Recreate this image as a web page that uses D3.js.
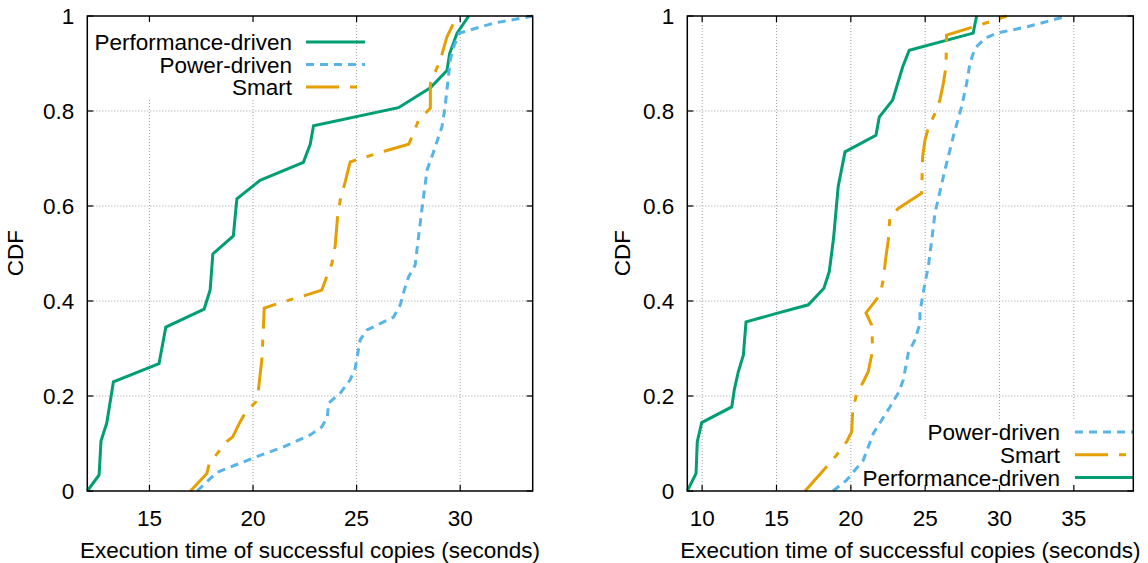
<!DOCTYPE html>
<html>
<head>
<meta charset="utf-8">
<script src="https://cdn.jsdelivr.net/npm/d3@7/dist/d3.min.js"></script>
<style>
  body { margin: 0; background: #fff; }
  text { font-family: "Liberation Sans", Arial, sans-serif; fill: #000; }
</style>
</head>
<body>
<svg id="chart" width="1148" height="563"></svg>
<script>
// left panel data (x = seconds, y = CDF)
const leftPerf = [[12,0],[12.57,0.034],[12.66,0.105],[12.94,0.143],[13.26,0.230],[15.46,0.268],[15.79,0.345],
  [17.64,0.383],[17.93,0.423],[18.06,0.499],[19.05,0.537],[19.22,0.615],[20.34,0.654],[22.43,0.692],[22.76,0.730],
  [22.92,0.769],[27.02,0.807],[28.56,0.849],[29.36,0.885],[29.49,0.921],[29.85,0.964],[30.41,1]];
const leftPower = [[17.3,0],[18.25,0.039],[20.10,0.071],[21.47,0.093],[22.76,0.118],[23.32,0.135],[23.59,0.156],
  [23.64,0.185],[24.21,0.206],[24.69,0.234],[24.93,0.258],[25.04,0.286],[25.17,0.318],[25.50,0.339],[26.78,0.366],
  [27.11,0.392],[27.30,0.423],[27.51,0.451],[27.83,0.476],[27.91,0.507],[28.15,0.592],[28.40,0.676],[28.69,0.711],
  [29.12,0.767],[29.25,0.802],[29.36,0.844],[29.52,0.907],[29.68,0.935],[29.97,0.964],[31.61,0.985],[32.90,0.995],[33.5,1]];
const leftSmart = [[16.98,0],[17.77,0.037],[17.89,0.058],[18.73,0.104],[19.02,0.114],[19.38,0.146],[19.62,0.164],
  [20.14,0.188],[20.26,0.213],[20.43,0.279],[20.50,0.343],[20.54,0.385],[21.23,0.395],[22.60,0.413],[23.32,0.423],
  [23.59,0.455],[23.81,0.479],[23.97,0.518],[24.08,0.577],[24.21,0.613],[24.45,0.651],[24.69,0.693],[26.54,0.718],
  [27.51,0.730],[27.75,0.753],[27.99,0.781],[28.56,0.806],[28.56,0.858],[28.80,0.883],[29.04,0.907],[29.36,0.956],[29.85,1]];

// right panel data
const rightPerf = [[9,0],[9.59,0.037],[9.67,0.104],[9.97,0.144],[11.99,0.177],[12.16,0.213],[12.43,0.251],[12.77,0.286],
  [12.95,0.356],[15.01,0.374],[17.14,0.392],[18.19,0.427],[18.55,0.462],[18.82,0.528],[18.87,0.543],[19.15,0.641],
  [19.61,0.714],[21.69,0.749],[21.91,0.787],[22.81,0.823],[23.49,0.893],[23.93,0.928],[28.23,0.964],[28.46,1]];
const rightPower = [[18.8,0],[19.72,0.023],[20.84,0.065],[21.51,0.121],[22.07,0.149],[22.63,0.177],[23.19,0.206],
  [23.53,0.234],[23.86,0.290],[24.31,0.318],[24.65,0.353],[24.65,0.377],[24.98,0.437],[25.21,0.472],[25.44,0.528],
  [25.66,0.585],[26.33,0.676],[26.89,0.746],[27.45,0.809],[27.79,0.858],[28.01,0.900],[28.35,0.932],[29.02,0.953],
  [29.81,0.964],[31.82,0.977],[33.61,0.992],[34.6,1]];
const rightSmart = [[16.92,0],[18.37,0.051],[19.05,0.076],[19.72,0.104],[20.06,0.125],[20.12,0.167],[20.39,0.206],
  [20.84,0.230],[21.17,0.251],[21.47,0.297],[21.40,0.349],[21.02,0.375],[21.96,0.413],[22.18,0.444],[22.36,0.493],
  [22.52,0.528],[22.63,0.577],[23.19,0.595],[24.76,0.627],[24.83,0.704],[24.99,0.739],[25.21,0.764],[25.66,0.795],
  [25.99,0.823],[26.22,0.858],[26.40,0.893],[26.44,0.960],[28.23,0.977],[29.36,0.988],[30.48,1]];

const leftXTicks = [15, 20, 25, 30];
const rightXTicks = [10, 15, 20, 25, 30, 35];
const yTicks = [0, 0.2, 0.4, 0.6, 0.8, 1];
const yTickLabels = ["0", "0.2", "0.4", "0.6", "0.8", "1"];
const xTitle = "Execution time of successful copies (seconds)";
const yTitle = "CDF";

const styles = {
  perf:  { color: "#009e73", dash: null },
  power: { color: "#56b4e9", dash: "8,6" },
  smart: { color: "#e69f00", dash: "33,11,7,11" }
};

const svg = d3.select("#chart");
const fontSize = 22.5;

function panel(opt) {
  const x = d3.scaleLinear().domain(opt.xDomain).range([opt.left, opt.right]);
  const y = d3.scaleLinear().domain([0, 1]).range([491, 16]);
  const g = svg.append("g");

  // grid
  const grid = g.append("g").attr("stroke", "#a0a0a0").attr("stroke-width", 1).attr("stroke-dasharray", "1,2");
  grid.selectAll(".gx").data(opt.xTicks).join("line")
    .attr("x1", d => x(d)).attr("x2", d => x(d)).attr("y1", y(0)).attr("y2", y(1));
  grid.selectAll(".gy").data(yTicks.slice(1, -1)).join("line")
    .attr("x1", x.range()[0]).attr("x2", x.range()[1]).attr("y1", d => y(d)).attr("y2", d => y(d));

  // opaque key box
  g.append("rect").attr("x", opt.keyBox[0]).attr("y", opt.keyBox[1])
    .attr("width", opt.keyBox[2]).attr("height", opt.keyBox[3]).attr("fill", "#fff");

  const line = d3.line().x(d => x(d[0])).y(d => y(d[1]));
  opt.series.forEach(s => {
    g.append("path").datum(s.data).attr("d", line)
      .attr("fill", "none").attr("stroke", styles[s.key].color).attr("stroke-width", 3)
      .attr("stroke-linejoin", "miter")
      .attr("stroke-dasharray", styles[s.key].dash);
  });

  // legend
  opt.legend.forEach((s, i) => {
    const ly = opt.legendY + i * opt.legendStep;
    g.append("text").attr("x", opt.legendTextX).attr("y", ly).attr("dy", "0.36em")
      .attr("text-anchor", "end").attr("font-size", fontSize).text(s.label);
    g.append("line").attr("x1", opt.legendLine[0]).attr("x2", opt.legendLine[1])
      .attr("y1", ly).attr("y2", ly)
      .attr("stroke", styles[s.key].color).attr("stroke-width", 3)
      .attr("stroke-dasharray", styles[s.key].dash);
  });

  // frame
  const [x0, x1] = x.range();
  g.append("rect").attr("x", x0).attr("y", y(1)).attr("width", x1 - x0).attr("height", y(0) - y(1))
    .attr("fill", "none").attr("stroke", "#000").attr("stroke-width", 1.5);

  // ticks (inward, mirrored)
  const tk = g.append("g").attr("stroke", "#000").attr("stroke-width", 1.2);
  opt.xTicks.forEach(t => {
    tk.append("line").attr("x1", x(t)).attr("x2", x(t)).attr("y1", y(0)).attr("y2", y(0) - 6);
    tk.append("line").attr("x1", x(t)).attr("x2", x(t)).attr("y1", y(1)).attr("y2", y(1) + 6);
  });
  yTicks.forEach(t => {
    tk.append("line").attr("x1", x0).attr("x2", x0 + 6).attr("y1", y(t)).attr("y2", y(t));
    tk.append("line").attr("x1", x1).attr("x2", x1 - 6).attr("y1", y(t)).attr("y2", y(t));
  });

  // tick labels
  g.selectAll(".xl").data(opt.xTicks).join("text")
    .attr("x", d => x(d)).attr("y", 526).attr("text-anchor", "middle")
    .attr("font-size", fontSize).text(d => d);
  g.selectAll(".yl").data(yTicks).join("text")
    .attr("x", x0 - 13).attr("y", d => y(d)).attr("dy", "0.36em").attr("text-anchor", "end")
    .attr("font-size", fontSize).text((d, i) => yTickLabels[i]);

  // axis titles
  g.append("text").attr("x", (x0 + x1) / 2).attr("y", 558).attr("text-anchor", "middle")
    .attr("font-size", fontSize).text(xTitle);
  g.append("text").attr("transform", `translate(${opt.yTitleX},253) rotate(-90)`)
    .attr("dy", "0.36em").attr("text-anchor", "middle").attr("font-size", fontSize).text(yTitle);
}

panel({
  xDomain: [12, 33.5], left: 87.3, right: 532.7, xTicks: leftXTicks, yTitleX: 15,
  series: [{ key: "perf", data: leftPerf }, { key: "power", data: leftPower }, { key: "smart", data: leftSmart }],
  legend: [{ key: "perf", label: "Performance-driven" }, { key: "power", label: "Power-driven" }, { key: "smart", label: "Smart" }],
  legendY: 42, legendStep: 22.5, legendTextX: 292, legendLine: [306, 365],
  keyBox: [88, 17, 212, 82]
});

panel({
  xDomain: [9, 39], left: 687.3, right: 1133.3, xTicks: rightXTicks, yTitleX: 622,
  series: [{ key: "perf", data: rightPerf }, { key: "power", data: rightPower }, { key: "smart", data: rightSmart }],
  legend: [{ key: "power", label: "Power-driven" }, { key: "smart", label: "Smart" }, { key: "perf", label: "Performance-driven" }],
  legendY: 432, legendStep: 22.8, legendTextX: 1060, legendLine: [1075, 1133],
  keyBox: [858, 421, 275, 69]
});
</script>
</body>
</html>
